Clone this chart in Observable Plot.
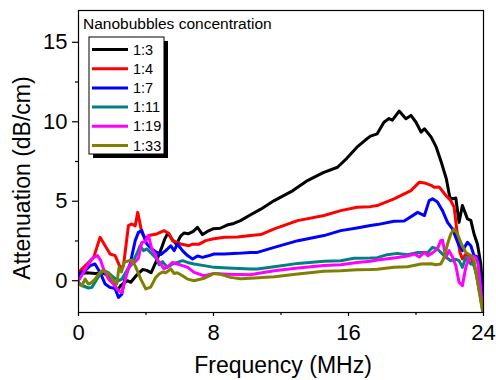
<!DOCTYPE html>
<html>
<head>
<meta charset="utf-8">
<script src="https://cdn.jsdelivr.net/npm/d3@7"></script>
<script src="https://cdn.jsdelivr.net/npm/@observablehq/plot@0.6"></script>
<style>
  html, body { margin: 0; padding: 0; background: #fff; }
  #chart { width: 496px; height: 380px; }
</style>
</head>
<body>
<div id="chart"></div>
<script>
// ---- Data ----
const seriesNames = ["1:3", "1:4", "1:7", "1:11", "1:19", "1:33"];
const seriesColors = ["#000000", "#ff0000", "#0000ff", "#008080", "#ff00ff", "#808000"];
const xTicks = [0, 8, 16, 24];
const xMinorTicks = [4, 12, 20];
const yTicks = [0, 5, 10, 15];
const yMinorTicks = [2.5, 7.5, 12.5];

const f13 = [0,0.2,0.5,1.0,1.4,1.8,2.1,2.3,2.5,2.9,3.1,3.4,3.8,4.05,4.3,4.6,4.9,5.1,5.3,5.55,5.8,6.05,6.25,6.5,6.8,7.05,7.35,7.64,8.0,8.4,8.8,9.2,9.6,10.2,10.8,11.6,12.6,13.57,14.5,15.35,15.9,16.5,17.0,17.3,17.7,18.1,18.4,18.6,19.0,19.4,19.7,20.0,20.3,20.5,20.9,21.2,21.5,21.8,22.0,22.16,22.36,22.55,22.75,23.05,23.25,23.44,23.64,23.84,24.0];
const a13 = [0.3,0.45,0.5,0.46,0.5,0.3,-0.2,-0.63,-0.3,0.0,-0.1,0.3,0.7,0.65,0.5,1.2,2.0,2.6,3.0,2.6,2.3,2.8,3.0,2.95,3.1,3.36,2.9,3.1,3.27,3.3,3.5,3.6,3.78,4.15,4.5,5.04,5.6,6.3,6.8,7.14,7.7,8.4,8.85,9.1,9.24,9.97,10.2,10.1,10.67,10.19,10.4,9.97,9.35,9.56,9.03,8.4,7.45,6.4,5.25,5.15,5.2,3.67,4.73,3.89,3.8,2.94,2.31,1.05,-1.3];

const f14 = [0,0.5,0.9,1.28,1.58,1.87,2.17,2.47,2.66,2.96,3.16,3.36,3.51,3.75,3.95,4.15,4.64,5.07,5.37,5.57,6.06,6.55,6.76,7.15,7.54,7.94,8.63,9.42,10.2,10.8,11.6,12.98,14.55,15.54,16.5,17.3,17.7,18.7,19.7,20.2,20.5,20.9,21.07,21.37,21.77,22.06,22.26,22.4,22.6,22.75,22.95,23.25,23.54,23.84,24];
const a14 = [0.52,1.05,1.47,2.73,2.2,1.68,1.58,0.84,0.9,3.47,3.57,3.45,4.3,3.04,2.62,2.84,2.94,3.15,2.95,2.52,2.31,2.2,2.3,2.3,2.52,2.62,2.73,2.75,2.84,2.9,3.26,3.78,4.1,4.41,4.62,4.66,4.73,5.15,5.67,6.2,6.15,6.0,5.88,5.9,5.36,5.04,4.62,3.36,1.78,1.37,1.68,1.47,0.63,-0.3,-0.4];

const f17 = [0,0.39,0.69,0.98,1.28,1.58,1.87,2.17,2.37,2.57,2.76,3.06,3.36,3.55,3.75,4.05,4.34,4.64,4.88,5.17,5.47,5.67,5.86,6.16,6.46,6.76,7.05,7.35,7.64,8.04,8.63,9.42,10.2,10.6,11.6,13.0,14.55,15.54,16.5,17.3,17.7,18.7,19.3,20.1,20.5,20.78,20.98,21.27,21.57,21.87,22.16,22.36,22.55,22.75,23.05,23.25,23.44,23.64,23.84,24];
const a17 = [0.42,0.63,0.95,1.05,0.52,-0.21,-0.42,-0.5,-1.05,-0.84,0.21,1.05,2.52,3.04,3.15,2.31,2.0,1.78,1.65,1.89,2.2,1.89,2.31,1.89,1.58,1.37,1.55,1.47,1.55,1.68,1.68,1.72,1.78,1.78,2.1,2.52,2.84,3.15,3.32,3.47,3.53,3.74,3.76,4.3,4.1,5.04,5.15,4.95,4.41,3.67,3.26,2.73,2.2,1.89,2.41,2.2,1.58,1.5,0,-1.9];

const f111 = [0,0.2,0.59,0.79,0.98,1.28,1.48,1.78,2.07,2.37,2.57,2.86,3.16,3.45,3.65,3.85,4.05,4.34,4.64,4.78,4.98,5.27,5.57,5.86,6.16,6.46,6.85,7.44,8.04,8.83,10.2,10.6,11.6,13.0,14.55,15.54,16.33,17.3,17.7,18.3,18.9,19.5,20.1,20.7,20.98,21.27,21.47,21.77,22.06,22.36,22.55,22.75,22.95,23.25,23.44,23.64,23.94,24];
const a111 = [-0.1,-0.3,-0.46,-0.42,-0.1,0.42,0.63,0.5,0.21,0,0.1,0.63,1.05,1.68,2.2,1.89,2.0,1.7,1.37,1.0,1.2,0.84,1.05,1.15,1.26,1.15,1.05,0.95,0.84,0.8,0.74,0.74,0.88,1.09,1.22,1.26,1.41,1.43,1.45,1.64,1.72,1.64,1.78,1.78,2.1,2.0,1.78,1.47,1.26,1.35,1.26,0.84,1.47,1.05,1.05,0,-1.79,-2.0];

const f119 = [0,0.3,0.59,0.89,1.12,1.32,1.48,1.78,2.07,2.37,2.57,2.76,2.96,3.16,3.36,3.55,3.75,3.95,4.15,4.34,4.54,4.68,4.88,5.07,5.37,5.57,5.86,6.16,6.46,6.85,7.44,8.04,8.83,10.2,10.6,11.6,13.0,14.55,15.54,16.5,17.3,17.7,18.7,19.5,19.9,20.2,20.5,20.7,20.98,21.27,21.47,21.57,21.77,21.96,22.16,22.36,22.55,22.75,22.95,23.15,23.35,23.54,23.68,23.94,24];
const a119 = [0,0.52,1.05,1.47,1.58,1.26,0.74,0.1,-0.21,-0.63,-0.74,0,0.84,1.15,1.2,1.4,2.41,2.45,2.84,2.0,1.68,1.3,1.05,0.74,0.95,1.15,1.05,0.95,0.85,0.52,0.31,0.46,0.4,0.38,0.45,0.63,0.8,0.95,1.0,1.15,1.22,1.3,1.43,1.55,1.68,1.5,1.78,1.58,1.75,2.0,2.52,2.56,1.47,1.89,1.5,0.95,-0.1,-0.31,0.84,1.47,1.55,1.47,1.05,-1.68,-2.0];

const f133 = [0,0.2,0.39,0.59,0.79,0.98,1.19,1.38,1.68,1.87,2.07,2.27,2.4,2.55,2.7,3.0,3.2,3.4,3.69,3.99,4.28,4.58,4.78,4.98,5.17,5.47,5.67,5.86,6.16,6.46,6.85,7.44,8.04,8.43,9.0,9.6,10.2,11.6,13.0,14.55,15.54,16.5,17.3,17.7,18.7,19.5,20.3,20.9,21.17,21.47,21.67,21.87,22.06,22.26,22.46,22.65,22.95,23.25,23.44,23.64,23.84,23.94];
const a133 = [-0.21,-0.31,0.1,-0.21,-0.1,0.1,0.42,0.63,0.55,0.31,0,-0.21,0.84,0.55,1.15,1.26,1.3,0.84,0.1,-0.52,-0.4,0.21,0.42,0.55,0.5,0.74,0.45,0.5,0.31,0.1,0,0.15,0.46,0.4,0.21,0.12,0.15,0.25,0.42,0.59,0.62,0.69,0.7,0.72,0.84,0.88,1.05,1.07,1.0,1.05,1.47,2.31,2.94,3.26,2.94,2.41,1.78,1.58,1.26,0,-1.26,-1.9];

const seriesX = [f13, f14, f17, f111, f119, f133];
const seriesY = [a13, a14, a17, a111, a119, a133];

// Long-format table built from the arrays above
const rows = [];
seriesNames.forEach((name, i) => {
  seriesX[i].forEach((f, j) => rows.push({series: name, f, a: seriesY[i][j]}));
});

const FONT = "'Liberation Sans', Arial, Helvetica, sans-serif";

const chart = Plot.plot({
  width: 496,
  height: 380,
  marginLeft: 78,
  marginRight: 13,
  marginTop: 10,
  marginBottom: 68,
  style: {fontFamily: FONT, fontSize: "22px", color: "#000", background: "#fff"},
  x: {domain: [0, 24], label: null},
  y: {domain: [-2, 17], label: null},
  color: {domain: seriesNames, range: seriesColors},
  marks: [
    Plot.line(rows, {x: "f", y: "a", z: "series", stroke: "series", strokeWidth: 3,
      strokeLinejoin: "round", strokeLinecap: "round", curve: "linear", clip: true}),
    Plot.frame({stroke: "#000", strokeWidth: 1.2}),
    Plot.axisX({ticks: xTicks, tickSize: 4, tickPadding: 8, label: null, fontSize: 22, strokeWidth: 1.2}),
    Plot.axisX({ticks: xMinorTicks, tickSize: 3, tickFormat: () => "", label: null, strokeWidth: 1.2}),
    Plot.axisY({ticks: yTicks, tickSize: 6, tickPadding: 5, label: null, fontSize: 22, strokeWidth: 1.2}),
    Plot.axisY({ticks: yMinorTicks, tickSize: 3, tickFormat: () => "", label: null, strokeWidth: 1.2})
  ]
});

document.getElementById("chart").appendChild(chart);

// ---- Axis titles and legend (added into the same SVG) ----
const svg = d3.select(chart);

svg.append("text")
  .attr("x", 283).attr("y", 373)
  .attr("text-anchor", "middle")
  .attr("font-family", FONT).attr("font-size", 23).attr("fill", "#000")
  .text("Frequency (MHz)");

svg.append("text")
  .attr("transform", "translate(30,178) rotate(-90)")
  .attr("text-anchor", "middle")
  .attr("font-family", FONT).attr("font-size", 23).attr("fill", "#000")
  .text("Attenuation (dB/cm)");

const lg = svg.append("g").attr("text-anchor", "start");
lg.append("text")
  .attr("x", 83).attr("y", 29)
  .attr("text-anchor", "start")
  .attr("font-family", FONT).attr("font-size", 15.5).attr("fill", "#000")
  .text("Nanobubbles concentration");
lg.append("rect").attr("x", 93).attr("y", 41).attr("width", 75).attr("height", 117).attr("fill", "#000");
lg.append("rect").attr("x", 89).attr("y", 37).attr("width", 75).attr("height", 117)
  .attr("fill", "#fff").attr("stroke", "#000").attr("stroke-width", 1);
seriesNames.forEach((name, i) => {
  const yy = 49.5 + i * 19.2;
  lg.append("line").attr("x1", 92).attr("x2", 128).attr("y1", yy).attr("y2", yy)
    .attr("stroke", seriesColors[i]).attr("stroke-width", 3);
  lg.append("text").attr("x", 133).attr("y", yy + 5)
    .attr("text-anchor", "start")
    .attr("font-family", FONT).attr("font-size", 14.5).attr("fill", "#000")
    .text(name);
});
</script>
</body>
</html>
